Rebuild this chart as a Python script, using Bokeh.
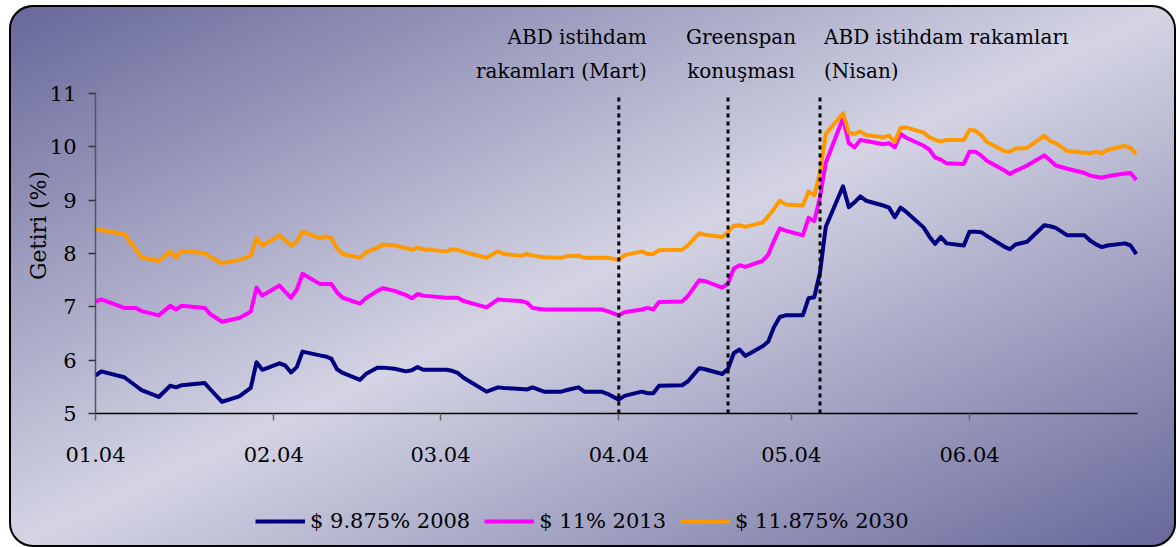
import math
import pandas as pd
from bokeh.plotting import figure
from bokeh.models import (Range1d, FixedTicker, DatetimeTickFormatter, Label,
                          Legend, LegendItem, ColumnDataSource)
from bokeh.embed import file_html
from bokeh.resources import INLINE

# ---------------- data ----------------
dates = [
    "2004-01-01", "2004-01-02", "2004-01-06", "2004-01-08", "2004-01-09", "2004-01-12",
    "2004-01-14", "2004-01-15", "2004-01-16", "2004-01-20", "2004-01-21", "2004-01-23",
    "2004-01-26", "2004-01-28", "2004-01-29", "2004-01-30",
    "2004-02-02", "2004-02-03", "2004-02-04", "2004-02-05", "2004-02-06", "2004-02-09",
    "2004-02-10", "2004-02-11", "2004-02-12", "2004-02-13", "2004-02-16", "2004-02-17",
    "2004-02-19", "2004-02-20", "2004-02-22", "2004-02-24", "2004-02-25", "2004-02-26",
    "2004-02-27",
    "2004-03-02", "2004-03-03", "2004-03-04", "2004-03-05", "2004-03-09", "2004-03-11",
    "2004-03-12", "2004-03-15", "2004-03-16", "2004-03-17", "2004-03-19", "2004-03-22",
    "2004-03-23", "2004-03-25", "2004-03-26", "2004-03-29", "2004-03-30",
    "2004-04-01", "2004-04-02", "2004-04-05", "2004-04-06", "2004-04-07", "2004-04-08",
    "2004-04-12", "2004-04-13", "2004-04-15", "2004-04-16", "2004-04-19", "2004-04-20",
    "2004-04-21", "2004-04-22", "2004-04-23", "2004-04-26", "2004-04-27", "2004-04-28",
    "2004-04-29", "2004-04-30",
    "2004-05-03", "2004-05-04", "2004-05-05", "2004-05-06", "2004-05-07", "2004-05-10",
    "2004-05-11", "2004-05-12", "2004-05-13", "2004-05-14", "2004-05-17", "2004-05-18",
    "2004-05-19", "2004-05-20", "2004-05-21", "2004-05-24", "2004-05-25", "2004-05-26",
    "2004-05-27", "2004-05-28", "2004-05-31",
    "2004-06-01", "2004-06-02", "2004-06-03", "2004-06-04", "2004-06-07", "2004-06-08",
    "2004-06-09", "2004-06-11", "2004-06-14", "2004-06-15", "2004-06-16", "2004-06-18",
    "2004-06-21", "2004-06-22", "2004-06-23", "2004-06-24", "2004-06-25", "2004-06-28",
    "2004-06-29", "2004-06-30",
]

y2008 = [
    5.71, 5.79, 5.68, 5.52, 5.44, 5.31, 5.52, 5.49, 5.53, 5.57, 5.45, 5.22, 5.32, 5.48, 5.96, 5.82,
    5.94, 5.90, 5.77, 5.87, 6.16, 6.09, 6.07, 6.03, 5.83, 5.76, 5.63, 5.74, 5.86, 5.86, 5.84, 5.79,
    5.81, 5.87, 5.82,
    5.82, 5.80, 5.76, 5.67, 5.41, 5.49, 5.48, 5.46, 5.45, 5.49, 5.41, 5.41, 5.44, 5.49, 5.41, 5.41, 5.37,
    5.26, 5.33, 5.41, 5.38, 5.38, 5.52, 5.53, 5.60, 5.85, 5.83, 5.74, 5.84, 6.13, 6.20, 6.08, 6.26,
    6.35, 6.62, 6.81, 6.84,
    6.84, 7.16, 7.18, 7.65, 8.50, 9.26, 8.87, 8.96, 9.07, 8.99, 8.90, 8.86, 8.68, 8.86, 8.78, 8.49,
    8.32, 8.18, 8.31, 8.19, 8.15,
    8.41, 8.41, 8.40, 8.33, 8.13, 8.08, 8.17, 8.22, 8.53, 8.51, 8.48, 8.34, 8.34, 8.24, 8.17, 8.12,
    8.15, 8.19, 8.15, 7.99,
]

y2013 = [
    7.10, 7.14, 6.98, 6.98, 6.92, 6.84, 7.02, 6.95, 7.02, 6.98, 6.86, 6.72, 6.79, 6.91, 7.36, 7.21,
    7.40, 7.28, 7.17, 7.32, 7.62, 7.43, 7.43, 7.43, 7.27, 7.17, 7.06, 7.16, 7.30, 7.35, 7.30, 7.22,
    7.16, 7.24, 7.21,
    7.17, 7.17, 7.17, 7.11, 6.99, 7.14, 7.13, 7.11, 7.08, 6.98, 6.95, 6.95, 6.95, 6.95, 6.95, 6.95, 6.92,
    6.84, 6.90, 6.95, 6.98, 6.95, 7.09, 7.10, 7.20, 7.50, 7.48, 7.36, 7.44, 7.72, 7.78, 7.75, 7.86,
    7.98, 8.24, 8.47, 8.43,
    8.34, 8.67, 8.61, 9.06, 9.70, 10.54, 10.07, 9.99, 10.13, 10.11, 10.05, 10.07, 9.99, 10.24, 10.17, 10.02,
    9.95, 9.80, 9.76, 9.69, 9.68,
    9.91, 9.91, 9.84, 9.74, 9.56, 9.49, 9.55, 9.65, 9.84, 9.75, 9.65, 9.59, 9.51, 9.46, 9.44, 9.42,
    9.45, 9.50, 9.51, 9.38,
]

y2030 = [
    8.44, 8.44, 8.36, 8.08, 7.93, 7.86, 8.04, 7.93, 8.04, 8.01, 7.93, 7.82, 7.88, 7.96, 8.29, 8.15,
    8.34, 8.25, 8.15, 8.22, 8.41, 8.29, 8.32, 8.29, 8.10, 7.99, 7.92, 8.02, 8.11, 8.17, 8.15, 8.10,
    8.07, 8.11, 8.08,
    8.04, 8.08, 8.07, 8.03, 7.92, 8.04, 7.99, 7.96, 7.99, 7.96, 7.93, 7.92, 7.95, 7.96, 7.92, 7.92, 7.92,
    7.88, 7.97, 8.04, 7.99, 7.99, 8.06, 8.07, 8.15, 8.38, 8.35, 8.31, 8.40, 8.52, 8.53, 8.50, 8.58,
    8.70, 8.84, 8.99, 8.92,
    8.90, 9.16, 9.09, 9.52, 10.24, 10.63, 10.27, 10.24, 10.29, 10.22, 10.18, 10.21, 10.09, 10.36, 10.36, 10.27,
    10.18, 10.13, 10.10, 10.13, 10.13,
    10.32, 10.30, 10.22, 10.09, 9.92, 9.91, 9.97, 9.98, 10.21, 10.11, 10.07, 9.92, 9.89, 9.88, 9.91, 9.88,
    9.94, 10.02, 9.98, 9.87,
]

series_labels = ["$ 9.875% 2008", "$ 11% 2013", "$ 11.875% 2030"]
series_colors = ["#000080", "#FF00FF", "#FF9900"]

month_ticks = ["2004-01-01", "2004-02-01", "2004-03-01", "2004-04-01", "2004-05-01", "2004-06-01"]
y_ticks = [5, 6, 7, 8, 9, 10, 11]
axis_start, axis_end = "2004-01-01", "2004-06-30"

events = ["2004-04-01", "2004-04-20", "2004-05-06"]
event_texts = [["ABD istihdam", "rakamları (Mart)"],
               ["Greenspan", "konuşması"],
               ["ABD istihdam rakamları", "(Nisan)"]]
y_label = "Getiri (%)"

# ---------------- layout constants (pixels) ----------------
FONT = "DejaVu Serif"
W, H = 1167, 542                 # figure size
PLOT_LEFT, PLOT_RIGHT = 86, 1128 # where the axis start / end sit inside the figure
PLOT_TOP, PLOT_BOTTOM = 88, 408  # y = 11 and y = 5 inside the figure

Y_MIN, Y_MAX = y_ticks[0], y_ticks[-1]
x0 = pd.Timestamp(axis_start)
x1 = pd.Timestamp(axis_end) + pd.Timedelta(hours=5)
ms_per_px = (x1 - x0) / (PLOT_RIGHT - PLOT_LEFT)
val_per_px = (Y_MAX - Y_MIN) / (PLOT_BOTTOM - PLOT_TOP)
x_range = Range1d(x0 - ms_per_px * PLOT_LEFT, x1 + ms_per_px * (W - PLOT_RIGHT))
y_range = Range1d(Y_MIN - val_per_px * (H - PLOT_BOTTOM), Y_MAX + val_per_px * PLOT_TOP)

x_dates = pd.to_datetime(dates)
src = ColumnDataSource(dict(date=x_dates, b2008=y2008, b2013=y2013, b2030=y2030))
ev_dates = pd.to_datetime(events)
ev_src = ColumnDataSource(dict(x=ev_dates, y0=[Y_MIN] * len(events), y1=[Y_MAX] * len(events)))

p = figure(width=W, height=H, x_axis_type="datetime", x_range=x_range, y_range=y_range,
           output_backend="svg", toolbar_location=None, min_border=0)
p.margin = (5, 0, 0, 9)
p.background_fill_color = None
p.border_fill_color = None
p.outline_line_color = None
p.styles = {
    "background": "linear-gradient(to bottom right, #67679a 0%, #d4d4e4 50%, #67679a 100%)",
    "border-radius": "24px",
    "box-shadow": "inset 0 0 0 2px #000000",
}
p.xgrid.visible = False
p.ygrid.visible = False

renderers = []
for col, color in zip(["b2008", "b2013", "b2030"], series_colors):
    r = p.line(x="date", y=col, source=src, line_color=color, line_width=4, line_join="round")
    renderers.append(r)

# event markers (vertical dashed lines)
p.segment(x0="x", y0="y0", x1="x", y1="y1", source=ev_src, line_color="black",
          line_width=3, line_dash="4 4")

# x axis (drawn at y = 5)
xa = p.xaxis[0]
xa.fixed_location = Y_MIN
xa.bounds = (x0.value / 1e6, x1.value / 1e6)
xa.ticker = FixedTicker(ticks=[pd.Timestamp(t).value / 1e6 for t in month_ticks])
xa.formatter = DatetimeTickFormatter(days="%m.%y", months="%m.%y", years="%m.%y",
                                     hours="%m.%y", minutes="%m.%y", seconds="%m.%y",
                                     milliseconds="%m.%y", microseconds="%m.%y",
                                     hourmin="%m.%y", minsec="%m.%y")
xa.axis_line_color = "black"
xa.axis_line_width = 1.5
xa.major_tick_out = 7
xa.major_tick_in = 0
xa.major_tick_line_color = "#666666"
xa.major_tick_line_width = 1.5
xa.minor_tick_line_color = None
xa.major_label_standoff = 26
xa.major_label_text_font = FONT
xa.major_label_text_font_size = "21px"
xa.major_label_text_color = "black"

# y axis (drawn at the first date)
ya = p.yaxis[0]
ya.fixed_location = x0.value / 1e6
ya.bounds = (Y_MIN, Y_MAX)
ya.ticker = FixedTicker(ticks=y_ticks)
ya.axis_line_color = "#555555"
ya.axis_line_width = 1.5
ya.major_tick_out = 7
ya.major_tick_in = 0
ya.major_tick_line_color = "#333333"
ya.major_tick_line_width = 1.5
ya.minor_tick_line_color = None
ya.major_label_standoff = 12
ya.major_label_text_font = FONT
ya.major_label_text_font_size = "21px"
ya.major_label_text_color = "black"

# y axis title
p.add_layout(Label(x=x0, y=Y_MAX - val_per_px * 132, x_offset=-57, text=y_label,
                   angle=math.pi / 2, text_align="center", text_baseline="middle",
                   text_font=FONT, text_font_size="22px", text_color="black"))

# event annotations (two lines above each marker)
offsets = [28, 13, 4]
aligns = ["right", "center", "left"]
line_y = [Y_MAX + val_per_px * 57, Y_MAX + val_per_px * 23]
for ev, lines, off, al in zip(ev_dates, event_texts, offsets, aligns):
    for txt, yy in zip(lines, line_y):
        p.add_layout(Label(x=ev, y=yy, x_offset=off, text=txt,
                           text_align=al, text_baseline="alphabetic", text_font=FONT,
                           text_font_size="20px", text_color="black"))

legend = Legend(items=[LegendItem(label=l, renderers=[r]) for l, r in zip(series_labels, renderers)],
                orientation="horizontal", location=(246, 14),
                glyph_width=50, glyph_height=20, label_standoff=5, spacing=14,
                padding=0, margin=0, background_fill_alpha=0, border_line_color=None,
                label_text_font=FONT, label_text_font_size="21px", label_text_color="black")
p.add_layout(legend)

open("out.html", "w").write(file_html(p, INLINE, title="Getiri"))
